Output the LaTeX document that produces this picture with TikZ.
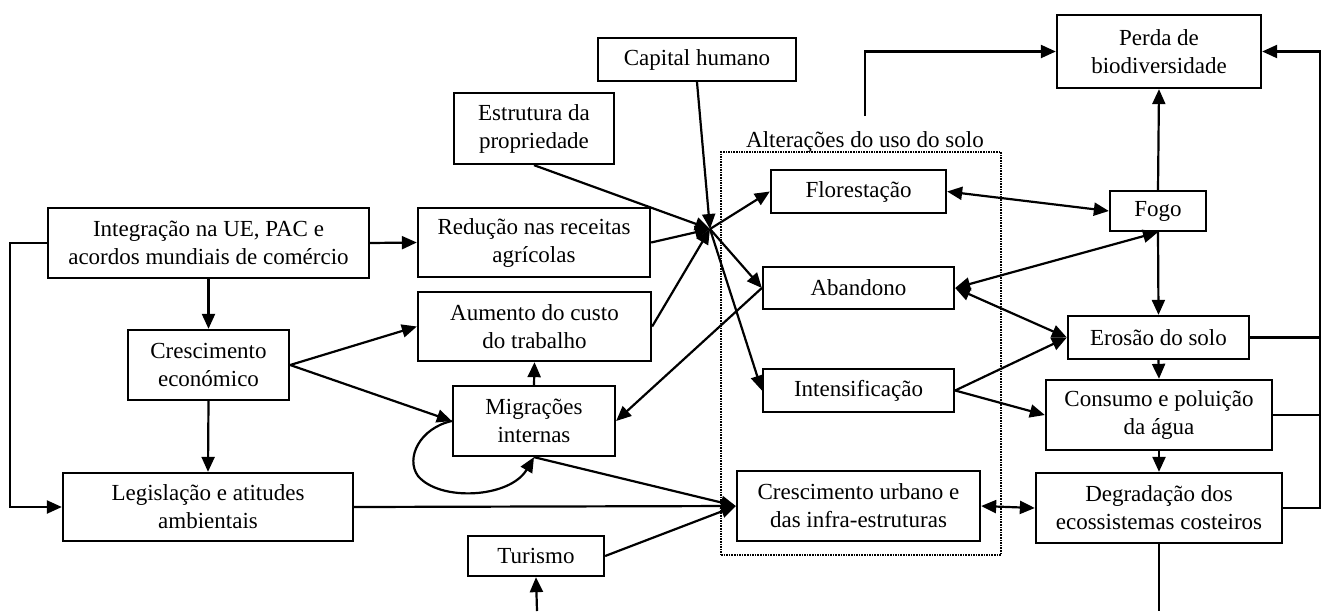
\documentclass[tikz,border=0pt]{standalone}
\usepackage{fontspec}
\setmainfont{Liberation Serif}
\usetikzlibrary{arrows.meta}
\begin{document}
\begin{tikzpicture}[x=1pt,y=-1pt,
 txt/.style={font=\fontsize{23}{28}\selectfont},
 box/.style={txt, draw, line width=2.3pt, inner sep=0pt, align=center},
 ln/.style={line width=2.2pt},
 arr/.style={ln, -{Triangle[length=15pt,width=13pt]}},
 darr/.style={ln, {Triangle[length=15pt,width=13pt]}-{Triangle[length=15pt,width=13pt]}},
 altbox/.style={draw, densely dotted, line width=1.6pt, inner sep=0pt}
]
\useasboundingbox (0,0) rectangle (1323,611);

% dotted group box
\node[altbox, minimum width=280pt, minimum height=403pt] (alt) at (861,353.5) {};
\node[txt, anchor=base] (altlbl) at (865,147) {Alterações do uso do solo};

% nodes
\node[box, minimum width=321pt, minimum height=70pt] (integ) at (208.5,243) {Integração na UE, PAC e\\acordos mundiais de comércio};
\node[box, minimum width=232pt, minimum height=69pt] (reduc) at (534,242.5) {Redução nas receitas\\agrícolas};
\node[box, minimum width=161pt, minimum height=70pt] (cresc) at (208.5,365) {Crescimento\\económico};
\node[box, minimum width=290pt, minimum height=68pt] (legis) at (208,507) {Legislação e atitudes\\ambientais};
\node[box, minimum width=233pt, minimum height=69pt] (aument) at (534.5,326.5) {Aumento do custo\\do trabalho};
\node[box, minimum width=162pt, minimum height=70pt] (migr) at (534,421) {Migrações\\internas};
\node[box, minimum width=136pt, minimum height=40pt] (turis) at (536,556) {Turismo};
\node[box, minimum width=198pt, minimum height=43pt] (capital) at (697,59.5) {Capital humano};
\node[box, minimum width=160pt, minimum height=71pt] (estrut) at (534,128.5) {Estrutura da\\propriedade};
\node[box, minimum width=175pt, minimum height=43pt] (flor) at (858.5,191.5) {Florestação};
\node[box, minimum width=191pt, minimum height=42pt] (aband) at (858.5,288) {Abandono};
\node[box, minimum width=191pt, minimum height=43pt] (intens) at (858.5,390.5) {Intensificação};
\node[box, minimum width=243pt, minimum height=70pt] (urb) at (858.5,506) {Crescimento urbano e\\das infra-estruturas};
\node[box, minimum width=96pt, minimum height=40pt] (fogo) at (1158,211) {Fogo};
\node[box, minimum width=204pt, minimum height=73pt] (perda) at (1159,51.5) {Perda de\\biodiversidade};
\node[box, minimum width=181pt, minimum height=43pt] (eros) at (1158.5,337.5) {Erosão do solo};
\node[box, minimum width=226pt, minimum height=70pt] (cons) at (1159,415) {Consumo e poluição\\da água};
\node[box, minimum width=246pt, minimum height=70pt] (degr) at (1159,508) {Degradação dos\\ecossistemas costeiros};

% helper coordinates
\coordinate (hub) at (710,229);
\coordinate (lbus) at (10,243);
\coordinate (rbus) at (1320,508);
\coordinate (alttop) at (865,116);
\coordinate (turB) at (537,611);
\coordinate (degB) at (1159,611);

% left part
\draw[arr] (integ.east) -- (reduc.west);
\draw[arr] (integ.south) -- (cresc.north);
\draw[arr] (cresc.south) -- (legis.north);
\draw[arr] (integ.west) -- (lbus) |- (legis.west);
\draw[arr] (cresc.east) -- (aument.west);
\draw[arr] (cresc.east) -- (migr.west);
\draw[arr] (migr.north) -- (aument.south);
\draw[arr] (migr.west) .. controls (420,428) and (405,458) .. (418,476) .. controls (440,502) and (510,498) .. (migr.south);

% into hub
\draw[arr] (capital.south) -- (hub);
\draw[arr] (estrut.south) -- (hub);
\draw[arr] (reduc.east) -- (hub);
\draw[arr] (aument.east) -- (hub);

% out of hub
\draw[arr] (hub) -- (flor.west);
\draw[arr] (hub) -- (aband.west);
\draw[arr] (hub) -- (intens.west);

\draw[arr] (aband.west) -- (migr.east);

% into urban growth
\draw[arr] (migr.south) -- (urb.west);
\draw[arr] (legis.east) -- (urb.west);
\draw[arr] (turis.east) -- (urb.west);
\draw[arr] (turB) -- (turis.south);

% right part
\draw[darr] (flor.east) -- (fogo.west);
\draw[darr] (aband.east) -- (fogo.south);
\draw[darr] (aband.east) -- (eros.west);
\draw[arr] (intens.east) -- (eros.west);
\draw[arr] (intens.east) -- (cons.west);
\draw[darr] (urb.east) -- (degr.west);
\draw[arr] (fogo.north) -- (perda.south);
\draw[arr] (fogo.south) -- (eros.north);
\draw[arr] (eros.south) -- (cons.north);
\draw[arr] (cons.south) -- (degr.north);
\draw[ln] (degr.south) -- (degB);
\draw[arr] (alttop) |- (perda.west);
\draw[arr] (degr.east) -- (rbus) |- (perda.east);
\draw[ln] (eros.east) -- (eros.east -| rbus);
\draw[ln] (cons.east) -- (cons.east -| rbus);
\end{tikzpicture}
\end{document}
